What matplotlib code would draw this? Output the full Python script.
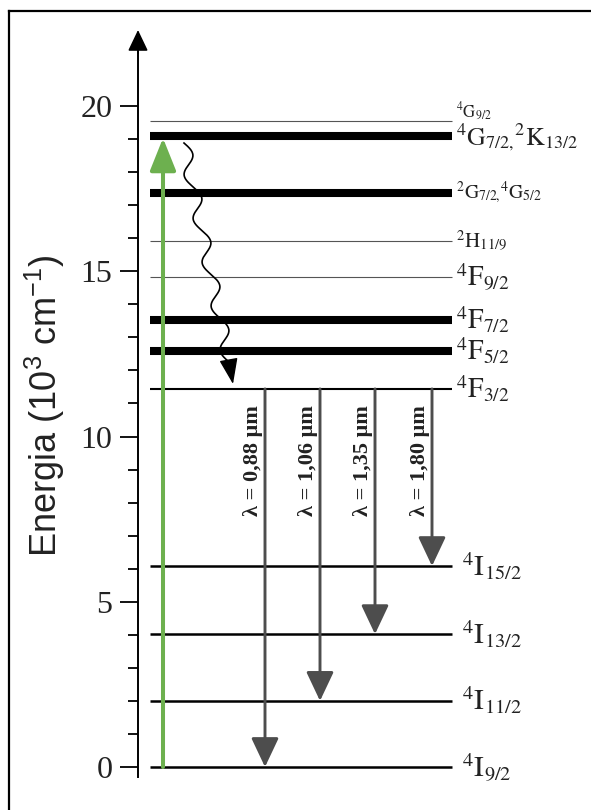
import numpy as np
import matplotlib
matplotlib.use("Agg")
import matplotlib.pyplot as plt
from matplotlib.lines import Line2D
from matplotlib.transforms import offset_copy

plt.rcParams["mathtext.fontset"] = "custom"
plt.rcParams["mathtext.rm"] = "Liberation Sans"
plt.rcParams["mathtext.it"] = "Liberation Sans:italic"
plt.rcParams["mathtext.bf"] = "Liberation Sans:bold"

# Energy levels of Nd3+ (10^3 cm^-1)
level_labels = [
    r"$^{4}\mathrm{G}_{9/2}$",
    r"$^{4}\mathrm{G}_{7/2{,}}{}^{2}\mathrm{K}_{13/2}$",
    r"$^{2}\mathrm{G}_{7/2{,}}{}^{4}\mathrm{G}_{5/2}$",
    r"$^{2}\mathrm{H}_{11/9}$",
    r"$^{4}\mathrm{F}_{9/2}$",
    r"$^{4}\mathrm{F}_{7/2}$",
    r"$^{4}\mathrm{F}_{5/2}$",
    r"$^{4}\mathrm{F}_{3/2}$",
    r"$^{4}\mathrm{I}_{15/2}$",
    r"$^{4}\mathrm{I}_{13/2}$",
    r"$^{4}\mathrm{I}_{11/2}$",
    r"$^{4}\mathrm{I}_{9/2}$",
]
level_energy = [19.55, 19.09, 17.37, 15.92, 14.83, 13.52, 12.59, 11.44,
                6.08, 4.02, 2.00, 0.00]
level_kind = ["thin", "thick", "thick", "thin", "thin", "thick", "thick",
              "medium", "ground", "ground", "ground", "ground"]

# Emission lines from 4F3/2
emission_labels = ["λ = 0,88 μm", "λ = 1,06 μm", "λ = 1,35 μm", "λ = 1,80 μm"]
emission_upper = 11.44
emission_lower = [0.00, 2.00, 4.02, 6.08]

pump_top = 19.03
tick_major = [0, 5, 10, 15, 20]

# ---- figure ----
W, H, DPI = 591, 810, 100
fig = plt.figure(figsize=(W / DPI, H / DPI), dpi=DPI)
ax = fig.add_axes([0, 0, 1, 1])
ax.set_facecolor("none")

px_per_unit = 33.05
y_zero_px = 767
ax.set_xlim(0, W)
ax.set_ylim((y_zero_px - H) / px_per_unit, y_zero_px / px_per_unit)

# energy axis
for s in ["top", "right", "bottom"]:
    ax.spines[s].set_visible(False)
ax.spines["left"].set_position(("data", 138))
ax.spines["left"].set_bounds(-0.3, 21.9)
ax.spines["left"].set_linewidth(1.4)
ax.set_yticks(tick_major)
ax.set_yticks(np.arange(0, 21, 1), minor=True)
ax.tick_params(axis="y", which="major", length=13, width=1.3, pad=5.5,
               labelsize=23, direction="out")
ax.tick_params(axis="y", which="minor", length=7.2, width=1.3, direction="out")
for lab in ax.get_yticklabels():
    lab.set_fontfamily("Liberation Serif")
    lab.set_color("#222222")
ax.set_xticks([])
ax.annotate("", xy=(138, 22.30), xytext=(138, 21.6),
            arrowprops=dict(arrowstyle="-|>,head_length=1.3,head_width=0.62",
                            mutation_scale=10, lw=1.2, color="black",
                            shrinkA=0, shrinkB=0))

ax.text(45, (y_zero_px - 406) / px_per_unit,
        r"Energia (10$^{3}$ cm$^{-1}$)", rotation=90, ha="center", va="center",
        fontsize=26, fontfamily="Liberation Sans", color="#222222")

# levels
styles = {"thin": dict(lw=0.8, color="#555555"),
          "thick": dict(lw=5.8, color="black"),
          "medium": dict(lw=1.5, color="black"),
          "ground": dict(lw=1.8, color="black")}
sizes = [12, 18.5, 14, 15, 20, 20, 20, 20, 21, 21, 21, 21]
extras = [6.0, -0.5, 1.0, 0, 0, 0, 0, 0, 0, 0, 0, 0]
for name, e, kind, fs, extra in zip(level_labels, level_energy, level_kind, sizes, extras):
    ax.plot([150, 452], [e, e], solid_capstyle="butt", zorder=2, **styles[kind])
    x0 = 462 if kind == "ground" else 456
    tr = offset_copy(ax.transData, fig=fig, x=0, y=-0.33 * fs + extra, units="points")
    ax.text(x0, e, name, transform=tr, ha="left", va="baseline", fontsize=fs,
            math_fontfamily="stix", color="#222222")

# pump arrow
ax.annotate("", xy=(163, pump_top), xytext=(163, 0),
            arrowprops=dict(arrowstyle="-|>,head_length=2.0,head_width=0.8",
                            mutation_scale=10, lw=2.9, color="#6db04f",
                            shrinkA=0, shrinkB=0), zorder=4)

# non-radiative decay (wavy arrow)
t = np.linspace(0, 1, 400)
wx = 184 + (229 - 184) * t + 6.5 * np.sin(2 * np.pi * 5 * t)
wy_top, wy_bot = 18.88, (y_zero_px - 362) / px_per_unit
wy = wy_top + (wy_bot - wy_top) * t
ax.plot(wx, wy, color="black", lw=1.2, zorder=3)
ax.annotate("", xy=(233, (y_zero_px - 384) / px_per_unit), xytext=(wx[-1], wy[-1]),
            arrowprops=dict(arrowstyle="-|>,head_length=1.6,head_width=0.58",
                            mutation_scale=10, lw=1.0, color="black",
                            shrinkA=0, shrinkB=0), zorder=3)

# radiative transitions
arrow_x = [265, 320, 375, 432]
for x, low, lab in zip(arrow_x, emission_lower, emission_labels):
    ax.annotate("", xy=(x, low), xytext=(x, emission_upper),
                arrowprops=dict(arrowstyle="-|>,head_length=1.8,head_width=0.85",
                                mutation_scale=10, lw=2.1, color="#4d4d4d",
                                shrinkA=0, shrinkB=0), zorder=3)
    ax.text(x - 12, (y_zero_px - 461) / px_per_unit, lab, rotation=90,
            ha="center", va="center", fontsize=16, fontweight="bold",
            fontfamily="Liberation Serif", color="#222222")

# frame
fig.add_artist(Line2D([9 / W, 9 / W], [0, 1 - 11 / H], transform=fig.transFigure,
                      color="black", lw=1.6))
fig.add_artist(Line2D([9 / W, 1], [1 - 11 / H, 1 - 11 / H], transform=fig.transFigure,
                      color="black", lw=1.6))

fig.savefig("out.png", dpi=DPI)
